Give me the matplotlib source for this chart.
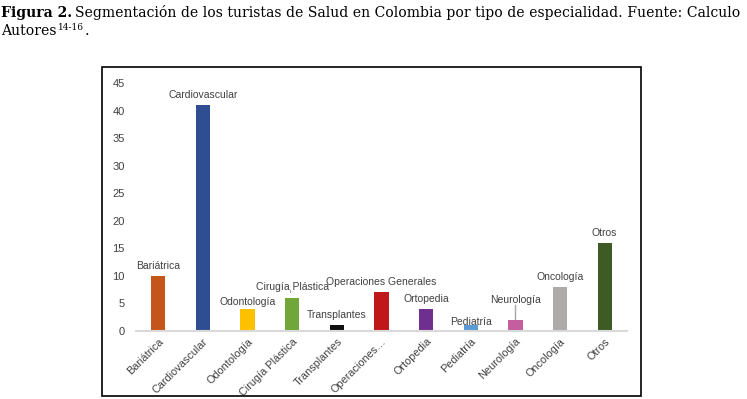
import matplotlib.pyplot as plt
from matplotlib.patches import Rectangle

categorias = ['Bariátrica', 'Cardiovascular', 'Odontología', 'Cirugía Plástica',
              'Transplantes', 'Operaciones Generales', 'Ortopedia', 'Pediatría',
              'Neurología', 'Oncología', 'Otros']
etiquetas_eje = ['Bariátrica', 'Cardiovascular', 'Odontología', 'Cirugía Plástica',
                 'Transplantes', 'Operaciones…', 'Ortopedia', 'Pediatría',
                 'Neurología', 'Oncología', 'Otros']
valores = [10, 41, 4, 6, 1, 7, 4, 1, 2, 8, 16]
colores = ['#C5561B', '#2F4D91', '#FFC000', '#70A63A', '#111111', '#C0171B',
           '#6F2F8E', '#5B9BD5', '#C55E9E', '#AFABA9', '#3E5B26']
# label offsets above bar top (data units); larger ones get a leader line
offset_lbl = [1.8, 1.9, 1.2, 2.0, 1.85, 1.9, 1.8, 0.6, 3.6, 1.8, 1.8]

W, H = 747, 399
fig = plt.figure(figsize=(W/100, H/100), dpi=100)
fig.patch.set_facecolor('white')
r = fig.canvas.get_renderer()

def pieza(x, y, s, size, weight='normal'):
    t = fig.text(x/W, 1 - y/H, s, fontsize=size, fontweight=weight,
                 family='DejaVu Serif', va='baseline', ha='left')
    return t.get_window_extent(r).x1

# title (serif, caption style)
fs = 10.05
x1 = pieza(1, 17, 'Figura 2.', fs, 'bold')
pieza(x1 + 3, 17, 'Segmentación de los turistas de Salud en Colombia por tipo de especialidad. Fuente: Calculo', fs)
x1 = pieza(1, 35, 'Autores', fs)
x1 = pieza(x1 + 1, 30, '14-16', 6.5)
pieza(x1 + 1, 35, '.', fs)

# chart frame
fig.patches.append(Rectangle((101.7/W, 1 - 395.7/H), (641.3 - 101.7)/W,
                             (395.7 - 67.3)/H, transform=fig.transFigure,
                             fill=False, edgecolor='black', linewidth=1.2))

ax = fig.add_axes([136/W, 1 - 330.7/H, (627 - 136)/W, (330.7 - 83.3)/H])
x = list(range(len(categorias)))
ax.bar(x, valores, width=0.32, color=colores)
ax.set_xlim(-0.5, len(categorias) - 0.5)
ax.set_ylim(0, 45)
ax.set_yticks(range(0, 46, 5))
for s in ['top', 'right', 'left']:
    ax.spines[s].set_visible(False)
ax.spines['bottom'].set_color('#D9D9D9')
ax.spines['bottom'].set_linewidth(1.5)
ax.tick_params(axis='y', length=0, labelsize=8, labelcolor='#404040', pad=8)
ax.tick_params(axis='x', length=0, labelsize=7.8, labelcolor='#404040', pad=4)
ax.set_xticks(x)
ax.set_xticklabels(etiquetas_eje, rotation=45, ha='right', rotation_mode='anchor',
                   family='Liberation Sans')
for t in ax.get_yticklabels():
    t.set_family('Liberation Sans')

for i, v in enumerate(valores):
    ax.text(i, v + offset_lbl[i], categorias[i], ha='center', va='center',
            fontsize=7.5, color='#404040', family='Liberation Sans')
    if offset_lbl[i] > 2.5:
        ax.plot([i, i], [v + 0.2, v + offset_lbl[i] - 1.0], color='#A6A6A6', linewidth=1)
ax.plot([3 - 0.05, 3 - 0.05], [valores[3] + 1.0, valores[3] + 1.4],
        color='#A6A6A6', linewidth=0.8)

fig.savefig('out.png', dpi=100)
